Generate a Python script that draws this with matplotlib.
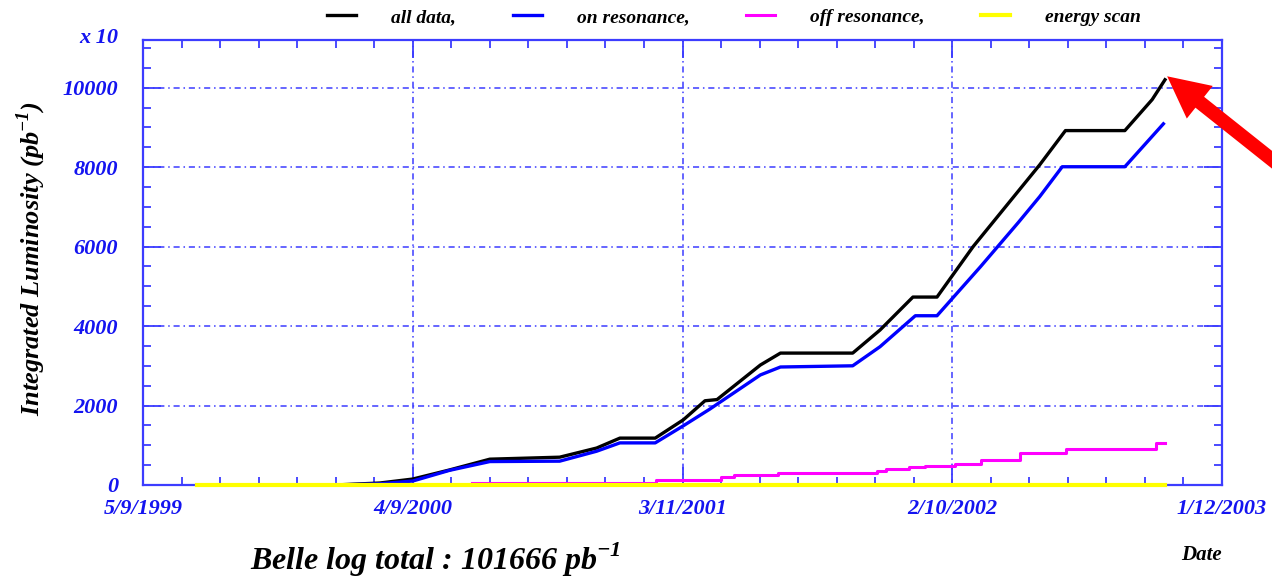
import numpy as np
import matplotlib
matplotlib.use("Agg")
import matplotlib.pyplot as plt
from matplotlib.ticker import FixedLocator, MultipleLocator

# days counted from 5/9/1999
all_days = [239, 295, 336, 382, 432, 519, 565, 594, 638, 673, 700, 715, 769, 794,
            884, 918, 959, 989, 1034, 1117, 1149, 1223, 1257, 1273]
all_lum = [0, 50, 150, 380, 650, 700, 930, 1180, 1180, 1640, 2120, 2150, 3020, 3320,
           3320, 3900, 4730, 4730, 6000, 8060, 8920, 8920, 9700, 10200]

on_days = [239, 295, 336, 382, 432, 519, 565, 594, 638, 673, 706, 769, 794, 884,
           918, 962, 989, 1043, 1090, 1117, 1145, 1223, 1271]
on_lum = [0, 30, 100, 370, 590, 600, 850, 1060, 1060, 1490, 1910, 2770, 2970, 3000,
          3480, 4260, 4260, 5490, 6600, 7260, 8010, 8010, 9090]

off_days = [410, 639, 720, 736, 791, 914, 925, 954, 974, 1011, 1044, 1092, 1150, 1262, 1273]
off_lum = [50, 125, 200, 250, 300, 350, 400, 450, 480, 530, 630, 800, 900, 1050, 1050]

scan_days = [67, 1273]
scan_lum = [0, 0]

tick_days = [0, 336, 672, 1008, 1344]
tick_labels = ['5/9/1999', '4/9/2000', '3/11/2001', '2/10/2002', '1/12/2003']
legend_labels = ['all data,', 'on resonance,', 'off resonance,', 'energy scan']

blue = '#1414f0'
axcol = '#3c3cff'
font = 'Liberation Serif'

plt.rcParams['font.family'] = font
plt.rcParams['font.weight'] = 'bold'
plt.rcParams['font.style'] = 'italic'
plt.rcParams['axes.labelweight'] = 'bold'

fig = plt.figure(figsize=(12.72, 5.8), dpi=100)
ax = fig.add_axes([143/1272, 95/580, 1079/1272, 445/580])

l1, = ax.plot(all_days, all_lum, color='black', lw=2.4, zorder=3)
l2, = ax.plot(on_days, on_lum, color='#0000ff', lw=2.4, zorder=3)
l3, = ax.plot(off_days, off_lum, color='#ff00ff', lw=2.2, drawstyle='steps-post', zorder=3)
l4, = ax.plot(scan_days, scan_lum, color='#ffff00', lw=3, zorder=6, clip_on=False)

ax.set_xlim(0, 1344)
ax.set_ylim(0, 11200)
ax.xaxis.set_major_locator(FixedLocator(tick_days))
ax.set_xticklabels(tick_labels)
ax.xaxis.set_minor_locator(MultipleLocator(48))
ax.set_yticks([0, 2000, 4000, 6000, 8000, 10000])
ax.yaxis.set_minor_locator(MultipleLocator(500))

for s in ax.spines.values():
    s.set_color(axcol)
    s.set_linewidth(1.6)
ax.tick_params(which='both', direction='in', top=True, right=True, color=axcol, width=1.3)
ax.tick_params(which='major', length=13)
ax.tick_params(which='minor', length=6)
ax.tick_params(axis='y', labelcolor=blue, labelsize=16, pad=18)
ax.tick_params(axis='x', labelcolor=blue, labelsize=16, pad=10)
ax.grid(True, which='major', color=axcol, lw=1.1, linestyle=(0, (4, 2.5, 1, 2.5)))

ax.set_ylabel('Integrated Luminosity (pb$^{\\mathregular{-1}}$)', fontsize=19, color='black')
ax.yaxis.set_label_coords(-0.088, 0.51)

ax.text(-0.023, 1.005, 'x 10', transform=ax.transAxes, ha='right', va='center',
        color=blue, fontsize=16)
ax.text(1.0, -0.157, 'Date', transform=ax.transAxes, ha='right', va='center',
        color='black', fontsize=15)
fig.text(250/1272, 1 - 560/580, 'Belle log total : 101666 pb$^{\\mathregular{-1}}$',
         ha='left', va='center', fontsize=23, color='black')

fig.legend([l1, l2, l3, l4], legend_labels, loc='center', bbox_to_anchor=(734/1272, 1 - 17/580),
           ncol=4, frameon=False, fontsize=14, handlelength=1.5, handletextpad=1.8,
           columnspacing=2.9)

ax.annotate('', xy=(1273, 10330), xycoords='data', xytext=(1300, 398),
            textcoords='figure pixels', annotation_clip=False,
            arrowprops=dict(arrowstyle='simple,head_length=3,head_width=3,tail_width=1.0',
                            mutation_scale=10, color='red', lw=0))

fig.savefig('out.png', dpi=100)
